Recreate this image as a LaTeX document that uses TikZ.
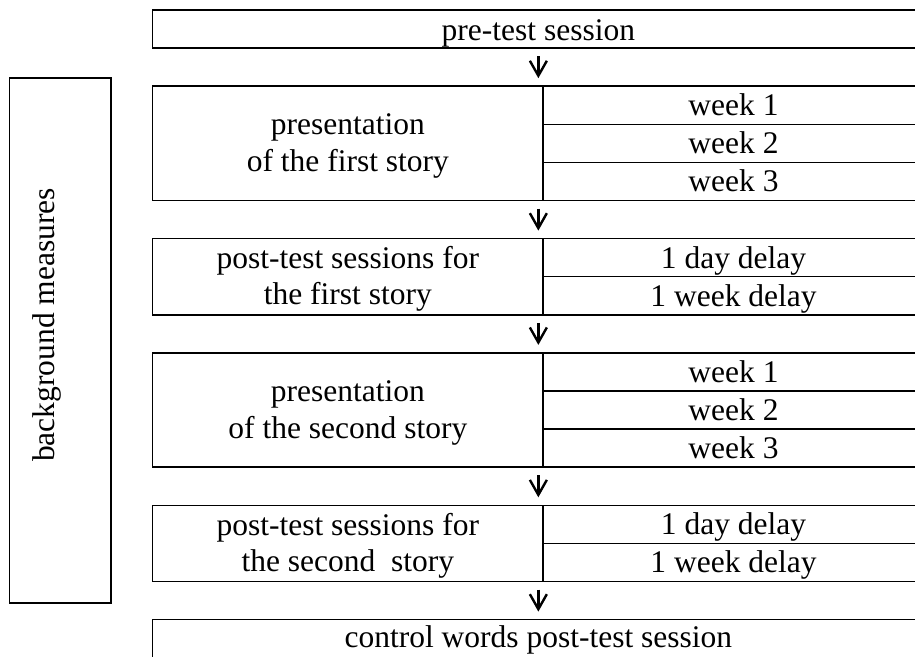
\documentclass[tikz,border=0pt]{standalone}
\usepackage{fontspec}
\setmainfont{Liberation Serif}
\usetikzlibrary{arrows.meta}
\begin{document}
\begin{tikzpicture}[x=1pt,y=-1pt,
  cell/.style={draw,line width=1.5pt,inner sep=0pt,outer sep=0pt,anchor=north west},
  side/.style={draw,line width=1.3pt,inner sep=0pt,outer sep=0pt,anchor=north west},
  txt/.style={inner sep=0pt,anchor=base,font=\fontsize{31.5}{37}\selectfont},
  flow/.style={line width=2.4pt,-{Straight Barb[length=15pt,width=17pt]},
    shorten <=8pt,shorten >=8pt}]
\clip (0,0) rectangle (915,656);

% background measures column
\node[side,minimum width=101.7pt,minimum height=525pt] (bg) at (9.3,78) {};
\node[txt,rotate=90] (bgtext) at (54,325) {background measures};

% pre-test
\node[cell,minimum width=771.3pt,minimum height=38.1pt] (pre) at (152.7,10) {};
\node[txt] (preT) at (538.35,40.3) {pre-test session};

% presentation of the first story
\node[cell,minimum width=390.3pt,minimum height=114.3pt] (p1) at (152.7,86.2) {};
\node[cell,minimum width=381pt,minimum height=38.1pt] (p1a) at (543,86.2) {};
\node[cell,minimum width=381pt,minimum height=38.1pt] (p1b) at (543,124.3) {};
\node[cell,minimum width=381pt,minimum height=38.1pt] (p1c) at (543,162.4) {};
\node[txt] (p1T1) at (347.85,134.9) {presentation};
\node[txt] (p1T2) at (347.85,171.6) {of the first story};
\node[txt] (p1aT) at (733.5,115.3) {week 1};
\node[txt] (p1bT) at (733.5,153.4) {week 2};
\node[txt] (p1cT) at (733.5,191.5) {week 3};

% post-test sessions for the first story
\node[cell,minimum width=390.3pt,minimum height=76.2pt] (t1) at (152.7,238.6) {};
\node[cell,minimum width=381pt,minimum height=38.1pt] (t1a) at (543,238.6) {};
\node[cell,minimum width=381pt,minimum height=38.1pt] (t1b) at (543,276.7) {};
\node[txt] (t1T1) at (347.85,268.2) {post-test sessions for};
\node[txt] (t1T2) at (347.85,304.9) {the first story};
\node[txt] (t1aT) at (733.5,268.0) {1 day delay};
\node[txt] (t1bT) at (733.5,306.1) {1 week delay};

% presentation of the second story
\node[cell,minimum width=390.3pt,minimum height=114.3pt] (p2) at (152.7,352.9) {};
\node[cell,minimum width=381pt,minimum height=38.1pt] (p2a) at (543,352.9) {};
\node[cell,minimum width=381pt,minimum height=38.1pt] (p2b) at (543,391.0) {};
\node[cell,minimum width=381pt,minimum height=38.1pt] (p2c) at (543,429.1) {};
\node[txt] (p2T1) at (347.85,401.6) {presentation};
\node[txt] (p2T2) at (347.85,438.3) {of the second story};
\node[txt] (p2aT) at (733.5,382.0) {week 1};
\node[txt] (p2bT) at (733.5,420.1) {week 2};
\node[txt] (p2cT) at (733.5,458.2) {week 3};

% post-test sessions for the second story
\node[cell,minimum width=390.3pt,minimum height=76.2pt] (t2) at (152.7,505.3) {};
\node[cell,minimum width=381pt,minimum height=38.1pt] (t2a) at (543,505.3) {};
\node[cell,minimum width=381pt,minimum height=38.1pt] (t2b) at (543,543.4) {};
\node[txt] (t2T1) at (347.85,535.0) {post-test sessions for};
\node[txt] (t2T2) at (347.85,571.7) {the second\ \ story};
\node[txt] (t2aT) at (733.5,534.8) {1 day delay};
\node[txt] (t2bT) at (733.5,572.9) {1 week delay};

% control words
\node[cell,minimum width=771.3pt,minimum height=38.1pt] (ctl) at (152.7,619.6) {};
\node[txt] (ctlT) at (538.35,647.5) {control words post-test session};

% flow arrows down the middle of the table
\coordinate (ax) at (538.35,0);
\draw[flow] (pre.south -| ax) -- (p1.north -| ax);
\draw[flow] (p1.south -| ax) -- (t1.north -| ax);
\draw[flow] (t1.south -| ax) -- (p2.north -| ax);
\draw[flow] (p2.south -| ax) -- (t2.north -| ax);
\draw[flow] (t2.south -| ax) -- (ctl.north -| ax);
\end{tikzpicture}
\end{document}
